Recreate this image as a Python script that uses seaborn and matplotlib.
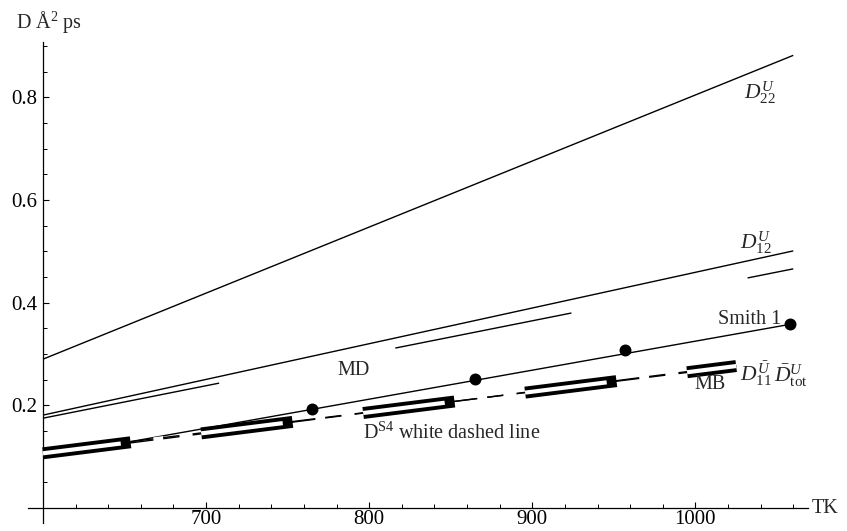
import numpy as np
import matplotlib
matplotlib.use("Agg")
import matplotlib.pyplot as plt
from matplotlib.ticker import MultipleLocator
import seaborn as sns

# Diffusion coefficients D (Å^2/ps) against temperature T (K)
d22_T = [600, 1060]
d22_D = [0.290, 0.882]

d12_T = [600, 1060]
d12_D = [0.181, 0.501]

md_T = [600, 1060]
md_D = [0.175, 0.466]

smith_T = [600, 1060]
smith_D = [0.099, 0.359]
smith_pts_T = [765, 865, 957, 1058]
smith_pts_D = [0.192, 0.251, 0.307, 0.358]

ds4_T = [600, 1025]
ds4_D = [0.1066, 0.2766]

d11_T = [600, 1025]
d11_D = [0.105, 0.278]

dtot_T = [600, 1025]
dtot_D = [0.108, 0.276]

x_ticks = [700, 800, 900, 1000]
x_tick_labels = ["700", "800", "900", "1000"]
y_ticks = [0.2, 0.4, 0.6, 0.8]
y_tick_labels = ["0.2", "0.4", "0.6", "0.8"]

sns.set_style("ticks")
plt.rcParams["font.family"] = ["Liberation Serif", "DejaVu Serif"]
plt.rcParams["mathtext.fontset"] = "custom"
plt.rcParams["mathtext.rm"] = "Liberation Serif"
plt.rcParams["mathtext.it"] = "Liberation Serif:italic"
plt.rcParams["mathtext.bf"] = "Liberation Serif:bold"
plt.rcParams["lines.scale_dashes"] = False

fig = plt.figure(figsize=(8.47, 5.31), dpi=100)
ax = fig.add_axes([0.0334, 0.0143, 0.9205, 0.9066])
ax.set_xlim(591, 1069)
ax.set_ylim(-0.03, 0.908)


def kelvin_dashes(T, D, pattern, offset=0.0):
    """Dash pattern given in kelvin along the line, converted to points."""
    p0 = ax.transData.transform((T[0], D[0]))
    p1 = ax.transData.transform((T[1], D[1]))
    pt_per_K = np.hypot(*(p1 - p0)) / (T[1] - T[0]) * 72 / fig.dpi
    return (offset * pt_per_K, tuple(v * pt_per_K for v in pattern))


def draw_line(T, D, lw, color="black", dashes=None, zorder=2):
    sns.lineplot(x=T, y=D, ax=ax, color=color, linewidth=lw, zorder=zorder)
    line = ax.lines[-1]
    line.set_solid_capstyle("butt")
    line.set_dash_capstyle("butt")
    if dashes is not None:
        line.set_linestyle(dashes)
    return line


thin = 1.0
draw_line(d22_T, d22_D, thin)
draw_line(d12_T, d12_D, thin)
draw_line(md_T, md_D, thin, dashes=kelvin_dashes(md_T, md_D, (108, 108)))
draw_line(d11_T, d11_D, thin)
draw_line(dtot_T, dtot_D, thin)
draw_line(smith_T, smith_D, thin)

# D^S4: thick black dashes with a white dashed line drawn over them
draw_line(ds4_T, ds4_D, 8.6, zorder=3,
          dashes=kelvin_dashes(ds4_T, ds4_D, (56, 43.3), offset=2.3))
draw_line(ds4_T, ds4_D, 3.0, color="white", zorder=4,
          dashes=kelvin_dashes(ds4_T, ds4_D, (50, 20, 6, 10, 8, 5.3), offset=2.3))

sns.scatterplot(x=smith_pts_T, y=smith_pts_D, ax=ax, s=74, color="black",
                edgecolor="black", linewidth=0, zorder=5)

# Axes crossing at (600, 0)
for side in ("top", "right"):
    ax.spines[side].set_visible(False)
ax.spines["left"].set_position(("data", 600))
ax.spines["bottom"].set_position(("data", 0))
for side in ("left", "bottom"):
    ax.spines[side].set_linewidth(0.9)
    ax.spines[side].set_color("black")

ax.set_xticks(x_ticks, x_tick_labels)
ax.set_yticks(y_ticks, y_tick_labels)
ax.xaxis.set_minor_locator(MultipleLocator(20))
ax.yaxis.set_minor_locator(MultipleLocator(0.05))
ax.tick_params(which="major", direction="in", length=4.5, width=0.8,
               labelsize=15, colors="black")
ax.tick_params(which="minor", direction="in", length=2.6, width=0.7, colors="black")
ax.tick_params(axis="x", pad=1.5)
ax.tick_params(axis="y", pad=4.0)

fs = 14.5
ax.text(583.3, 0.935, "D Å$^2$ ps", fontsize=fs, ha="left", va="baseline")
ax.text(1071, 0.0, "TK", fontsize=fs, ha="left", va="center")
ax.text(1030.0, 0.798, r"$D^{U}_{22}$", fontsize=fs + 1, ha="left", va="baseline")
ax.text(1027.4, 0.506, r"$D^{U}_{12}$", fontsize=fs + 1, ha="left", va="baseline")
ax.text(1052.7, 0.3585, "Smith 1", fontsize=fs, ha="right", va="baseline")
ax.text(780.3, 0.259, "MD", fontsize=fs, ha="left", va="baseline")
ax.text(796, 0.1358, r"D$^{\mathrm{S4}}$ white dashed line", fontsize=fs,
        ha="left", va="baseline")
ax.text(999.4, 0.2313, "MB", fontsize=fs, ha="left", va="baseline")
ax.text(1027.4, 0.2461, r"$D^{\bar{U}}_{11}$", fontsize=fs + 1, ha="left", va="baseline")
ax.text(1048.4, 0.2461, r"$\bar{D}^{U}_{\mathrm{tot}}$", fontsize=fs + 1,
        ha="left", va="baseline")

fig.savefig("out.png", dpi=100, facecolor="white")
